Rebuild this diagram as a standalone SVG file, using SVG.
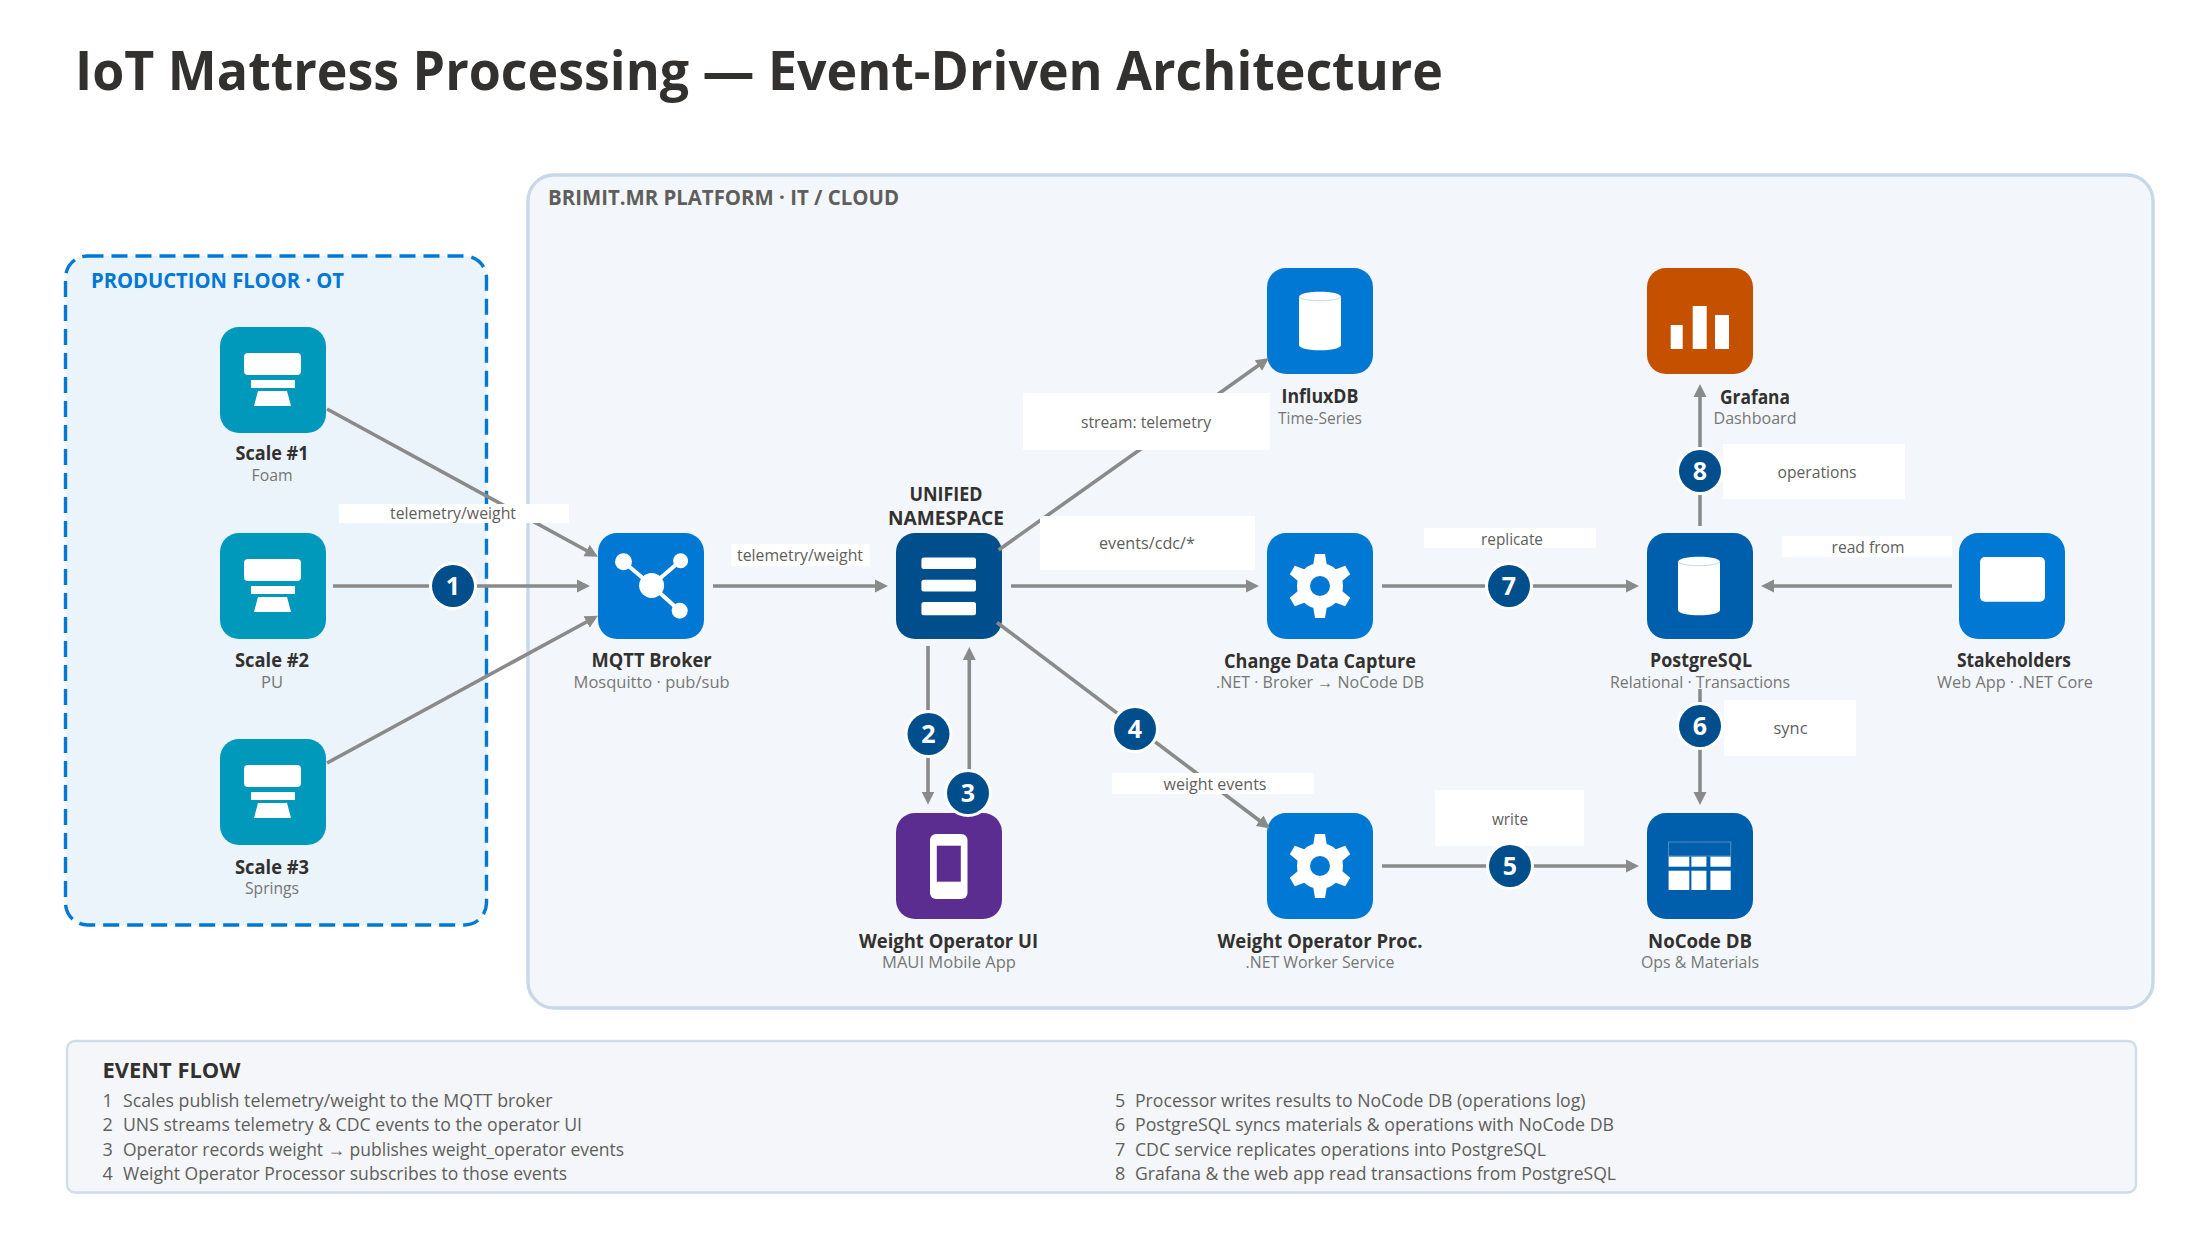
<svg xmlns="http://www.w3.org/2000/svg" width="2200" height="1238" viewBox="0 0 2200 1238">
<style>
text{font-family:"Open Sans","Noto Sans","Liberation Sans",sans-serif}
.title{font-size:54px;font-weight:700;fill:#323130}
.zone{font-size:21px;font-weight:700}
.nm{font-size:19.5px;font-weight:700;fill:#323130;text-anchor:middle}
.sub{font-size:17px;fill:#767676;text-anchor:middle}
.lbl{font-size:17px;fill:#605E5C;text-anchor:middle}
.lr{fill:#fff}
.flowh{font-size:21.5px;font-weight:700;fill:#323130}
.row{font-size:18px;fill:#605E5C}
.cx{fill:none;stroke:#8A8A8A;stroke-width:3.6;marker-end:url(#arw)}
.bd{fill:#004E8C;stroke:#fff;stroke-width:6;paint-order:stroke}
.bt{font-size:25px;font-weight:700;fill:#fff;text-anchor:middle}
.w{fill:#fff}
</style>
<defs>
<marker id="arw" markerUnits="userSpaceOnUse" markerWidth="14" markerHeight="14" refX="3" refY="7" orient="auto"><path d="M0 0.5L13 7L0 13.5Z" fill="#8A8A8A"/></marker>
<rect id="box" width="106" height="106" rx="19"/>
<g id="scaleicon" class="w"><rect x="24" y="26" width="57" height="22" rx="4"/><rect x="31" y="53" width="44" height="8"/><path d="M38 64H67L71 79H34Z"/></g>
<g id="gear" class="w">
<circle r="16.5" fill="none" stroke="#fff" stroke-width="13"/>
<path d="M-7 -20L-5 -32H5L7 -20Z"/>
<path d="M-7 -20L-5 -32H5L7 -20Z" transform="rotate(60)"/>
<path d="M-7 -20L-5 -32H5L7 -20Z" transform="rotate(120)"/>
<path d="M-7 -20L-5 -32H5L7 -20Z" transform="rotate(180)"/>
<path d="M-7 -20L-5 -32H5L7 -20Z" transform="rotate(240)"/>
<path d="M-7 -20L-5 -32H5L7 -20Z" transform="rotate(300)"/>
</g>
<g id="cyl"><path class="w" d="M32 29C32 22 74 22 74 29V77C74 84 32 84 32 77Z"/><path d="M32 29C38 34 68 34 74 29" fill="none" stroke="#BFD9F0" stroke-width="1"/></g>
</defs>
<rect width="2200" height="1238" fill="#fff"/>
<text class="title" x="75" y="90" textLength="1368" lengthAdjust="spacingAndGlyphs">IoT Mattress Processing — Event-Driven Architecture</text>

<g id="zone-ot">
<rect x="65.5" y="256" width="421" height="669" rx="22" fill="#EBF3FB" stroke="#0078D4" stroke-width="3.4" stroke-dasharray="16 8"/>
<text class="zone" x="91" y="288" fill="#0078D4" textLength="253" lengthAdjust="spacingAndGlyphs">PRODUCTION FLOOR · OT</text>
</g>
<g id="zone-it">
<rect x="528" y="175" width="1625" height="833" rx="26" fill="#F3F7FB" stroke="#C8D8E8" stroke-width="3.4"/>
<text class="zone" x="548" y="205" fill="#605E5C" textLength="351" lengthAdjust="spacingAndGlyphs">BRIMIT.MR PLATFORM · IT / CLOUD</text>
</g>

<g id="scale1"><use href="#box" x="220" y="327" fill="#0099BC"/><use href="#scaleicon" x="220" y="327"/><text class="nm" x="272" y="460" textLength="73" lengthAdjust="spacingAndGlyphs">Scale #1</text><text class="sub" x="272" y="481" textLength="41" lengthAdjust="spacingAndGlyphs">Foam</text></g>
<g id="scale2"><use href="#box" x="220" y="533" fill="#0099BC"/><use href="#scaleicon" x="220" y="533"/><text class="nm" x="272" y="667" textLength="74" lengthAdjust="spacingAndGlyphs">Scale #2</text><text class="sub" x="272" y="688" textLength="22" lengthAdjust="spacingAndGlyphs">PU</text></g>
<g id="scale3"><use href="#box" x="220" y="739" fill="#0099BC"/><use href="#scaleicon" x="220" y="739"/><text class="nm" x="272" y="874" textLength="74" lengthAdjust="spacingAndGlyphs">Scale #3</text><text class="sub" x="272" y="894" textLength="54" lengthAdjust="spacingAndGlyphs">Springs</text></g>

<g id="mqtt"><use href="#box" x="598" y="533" fill="#0078D4"/>
<g stroke="#fff" stroke-width="4"><path d="M623.5 561.7L651.6 585.5M680.6 560.7L651.6 585.5M679.7 610.7L651.6 585.5"/></g>
<g class="w"><circle cx="651.6" cy="585.5" r="12.5"/><circle cx="623.5" cy="561.7" r="8.5"/><circle cx="680.6" cy="560.7" r="7.5"/><circle cx="679.7" cy="610.7" r="8"/></g>
<text class="nm" x="651.6" y="667" textLength="120" lengthAdjust="spacingAndGlyphs">MQTT Broker</text><text class="sub" x="651.6" y="688" textLength="156" lengthAdjust="spacingAndGlyphs">Mosquitto · pub/sub</text></g>

<g id="uns"><use href="#box" x="896" y="533" fill="#004E8C"/>
<g class="w"><rect x="921.4" y="557.4" width="54.6" height="11.6" rx="2.5"/><rect x="921.4" y="579.8" width="54.6" height="11.8" rx="2.5"/><rect x="921.4" y="601.9" width="54.6" height="13.4" rx="2.5"/></g>
<text class="nm" x="946" y="501" textLength="73" lengthAdjust="spacingAndGlyphs">UNIFIED</text><text class="nm" x="946" y="525" textLength="116" lengthAdjust="spacingAndGlyphs">NAMESPACE</text></g>

<g id="influx"><use href="#box" x="1267" y="268" fill="#0078D4"/><use href="#cyl" x="1267" y="268"/><text class="nm" x="1320" y="403" textLength="77" lengthAdjust="spacingAndGlyphs">InfluxDB</text><text class="sub" x="1320" y="424" textLength="84" lengthAdjust="spacingAndGlyphs">Time-Series</text></g>

<g id="cdc"><use href="#box" x="1267" y="533" fill="#0078D4"/><use href="#gear" x="1320" y="586"/><text class="nm" x="1320" y="667.5" textLength="192" lengthAdjust="spacingAndGlyphs">Change Data Capture</text><text class="sub" x="1320" y="688" textLength="208" lengthAdjust="spacingAndGlyphs">.NET · Broker → NoCode DB</text></g>

<g id="proc"><use href="#box" x="1267" y="813" fill="#0078D4"/><use href="#gear" x="1320" y="866"/><text class="nm" x="1320" y="947.5" textLength="205" lengthAdjust="spacingAndGlyphs">Weight Operator Proc.</text><text class="sub" x="1320" y="968" textLength="149" lengthAdjust="spacingAndGlyphs">.NET Worker Service</text></g>

<g id="weightui"><use href="#box" x="896" y="813" fill="#5C2D91"/><rect class="w" x="930" y="834" width="37.5" height="65" rx="6"/><rect x="936.8" y="845.7" width="24" height="36" fill="#5C2D91"/><text class="nm" x="948.5" y="947.5" textLength="179" lengthAdjust="spacingAndGlyphs">Weight Operator UI</text><text class="sub" x="949" y="968" textLength="134" lengthAdjust="spacingAndGlyphs">MAUI Mobile App</text></g>

<g id="grafana"><use href="#box" x="1647" y="268" fill="#C55000"/><g class="w"><rect x="1670.7" y="325" width="12" height="24"/><rect x="1692.7" y="306" width="14" height="43"/><rect x="1715" y="315" width="14" height="34"/></g><text class="nm" x="1755" y="403.5" textLength="70" lengthAdjust="spacingAndGlyphs">Grafana</text><text class="sub" x="1755" y="424" textLength="83" lengthAdjust="spacingAndGlyphs">Dashboard</text></g>

<g id="postgres"><use href="#box" x="1647" y="533" fill="#005FAD"/><use href="#cyl" x="1646" y="533"/><text class="nm" x="1701" y="667" textLength="102" lengthAdjust="spacingAndGlyphs">PostgreSQL</text><text class="sub" x="1700" y="688" textLength="180" lengthAdjust="spacingAndGlyphs">Relational · Transactions</text></g>

<g id="stakeholders"><use href="#box" x="1959" y="533" fill="#0078D4"/><rect class="w" x="1980" y="557" width="65" height="44.7" rx="5"/><text class="nm" x="2014" y="667" textLength="114" lengthAdjust="spacingAndGlyphs">Stakeholders</text><text class="sub" x="2015" y="688" textLength="156" lengthAdjust="spacingAndGlyphs">Web App · .NET Core</text></g>

<g id="nocode"><use href="#box" x="1647" y="813" fill="#005FAD"/><rect x="1668.6" y="842" width="62.1" height="14" fill="none" stroke="#fff" stroke-opacity=".3"/><g class="w"><rect x="1668.6" y="856.7" width="20.7" height="10"/><rect x="1691.4" y="856.7" width="15" height="10"/><rect x="1710.4" y="856.7" width="20.3" height="10"/><rect x="1668.6" y="870.7" width="20.7" height="19.3"/><rect x="1691.4" y="870.7" width="15" height="19.3"/><rect x="1710.4" y="870.7" width="20.3" height="19.3"/></g><text class="nm" x="1700" y="947.5" textLength="104" lengthAdjust="spacingAndGlyphs">NoCode DB</text><text class="sub" x="1700" y="968" textLength="118" lengthAdjust="spacingAndGlyphs">Ops &amp; Materials</text></g>

<g id="connectors">
<path class="cx" d="M327 409L589.2 552"/>
<path class="cx" d="M333 586H580"/>
<path class="cx" d="M327 763L589.2 620.5"/>
<path class="cx" d="M713 586H878"/>
<path class="cx" d="M1011 586H1249"/>
<path class="cx" d="M998.6 550L1260.8 363.8"/>
<path class="cx" d="M997 622.5L1262 822.5"/>
<path class="cx" d="M928 646V794.5"/>
<path class="cx" d="M969.3 810V657"/>
<path class="cx" d="M1382 586H1629"/>
<path class="cx" d="M1382 866H1629"/>
<path class="cx" d="M1700 526V394"/>
<path class="cx" d="M1700 689V795"/>
<path class="cx" d="M1952 586H1771"/>
<rect class="lr" x="339" y="504" width="230" height="19"/><text class="lbl" x="453" y="519" textLength="126" lengthAdjust="spacingAndGlyphs">telemetry/weight</text>
<rect class="lr" x="731" y="544" width="139" height="22"/><text class="lbl" x="800" y="561" textLength="126" lengthAdjust="spacingAndGlyphs">telemetry/weight</text>
<rect class="lr" x="1023" y="393" width="247" height="57"/><text class="lbl" x="1146" y="428" textLength="130" lengthAdjust="spacingAndGlyphs">stream: telemetry</text>
<rect class="lr" x="1040" y="516" width="215" height="54"/><text class="lbl" x="1147" y="549" textLength="96" lengthAdjust="spacingAndGlyphs">events/cdc/*</text>
<rect class="lr" x="1112" y="773" width="202" height="21"/><text class="lbl" x="1215" y="790" textLength="103" lengthAdjust="spacingAndGlyphs">weight events</text>
<rect class="lr" x="1424" y="528" width="172" height="20"/><text class="lbl" x="1512" y="545" textLength="62" lengthAdjust="spacingAndGlyphs">replicate</text>
<rect class="lr" x="1435" y="790" width="149" height="56"/><text class="lbl" x="1510" y="825" textLength="36" lengthAdjust="spacingAndGlyphs">write</text>
<rect class="lr" x="1723" y="444" width="182" height="55"/><text class="lbl" x="1817" y="478" textLength="79" lengthAdjust="spacingAndGlyphs">operations</text>
<rect class="lr" x="1724" y="700" width="132" height="56"/><text class="lbl" x="1790.5" y="734" textLength="34" lengthAdjust="spacingAndGlyphs">sync</text>
<rect class="lr" x="1782" y="536" width="170" height="21"/><text class="lbl" x="1868" y="552.5" textLength="73" lengthAdjust="spacingAndGlyphs">read from</text>
</g>

<g id="badges">
<g id="badge1"><circle class="bd" cx="453" cy="586" r="21"/><text class="bt" x="453" y="595">1</text></g>
<g id="badge2"><circle class="bd" cx="928.5" cy="734" r="21"/><text class="bt" x="928.5" y="743">2</text></g>
<g id="badge3"><circle class="bd" cx="968" cy="793" r="21"/><text class="bt" x="968" y="802">3</text></g>
<g id="badge4"><circle class="bd" cx="1135" cy="729" r="21"/><text class="bt" x="1135" y="738">4</text></g>
<g id="badge5"><circle class="bd" cx="1510" cy="866" r="21"/><text class="bt" x="1510" y="875">5</text></g>
<g id="badge6"><circle class="bd" cx="1700" cy="726" r="21"/><text class="bt" x="1700" y="735">6</text></g>
<g id="badge7"><circle class="bd" cx="1509" cy="586" r="21"/><text class="bt" x="1509" y="595">7</text></g>
<g id="badge8"><circle class="bd" cx="1700" cy="471" r="21"/><text class="bt" x="1700" y="480">8</text></g>
</g>

<g id="legend">
<rect x="67" y="1041" width="2069" height="151.5" rx="8" fill="#F4F6F9" stroke="#D0DCE8" stroke-width="2.4"/>
<text class="flowh" x="102.5" y="1078" textLength="138" lengthAdjust="spacingAndGlyphs">EVENT FLOW</text>
<text class="row" x="102.5" y="1107">1</text><text class="row" x="123" y="1107" textLength="429.5" lengthAdjust="spacingAndGlyphs">Scales publish telemetry/weight to the MQTT broker</text>
<text class="row" x="102.5" y="1131">2</text><text class="row" x="123" y="1131" textLength="459" lengthAdjust="spacingAndGlyphs">UNS streams telemetry &amp; CDC events to the operator UI</text>
<text class="row" x="102.5" y="1156">3</text><text class="row" x="123" y="1156" textLength="501" lengthAdjust="spacingAndGlyphs">Operator records weight → publishes weight_operator events</text>
<text class="row" x="102.5" y="1180">4</text><text class="row" x="123" y="1180" textLength="444" lengthAdjust="spacingAndGlyphs">Weight Operator Processor subscribes to those events</text>
<text class="row" x="1115" y="1107">5</text><text class="row" x="1135" y="1107" textLength="450.5" lengthAdjust="spacingAndGlyphs">Processor writes results to NoCode DB (operations log)</text>
<text class="row" x="1115" y="1131">6</text><text class="row" x="1135" y="1131" textLength="479" lengthAdjust="spacingAndGlyphs">PostgreSQL syncs materials &amp; operations with NoCode DB</text>
<text class="row" x="1115" y="1156">7</text><text class="row" x="1135" y="1156" textLength="411" lengthAdjust="spacingAndGlyphs">CDC service replicates operations into PostgreSQL</text>
<text class="row" x="1115" y="1180">8</text><text class="row" x="1135" y="1180" textLength="481" lengthAdjust="spacingAndGlyphs">Grafana &amp; the web app read transactions from PostgreSQL</text>
</g>
</svg>
